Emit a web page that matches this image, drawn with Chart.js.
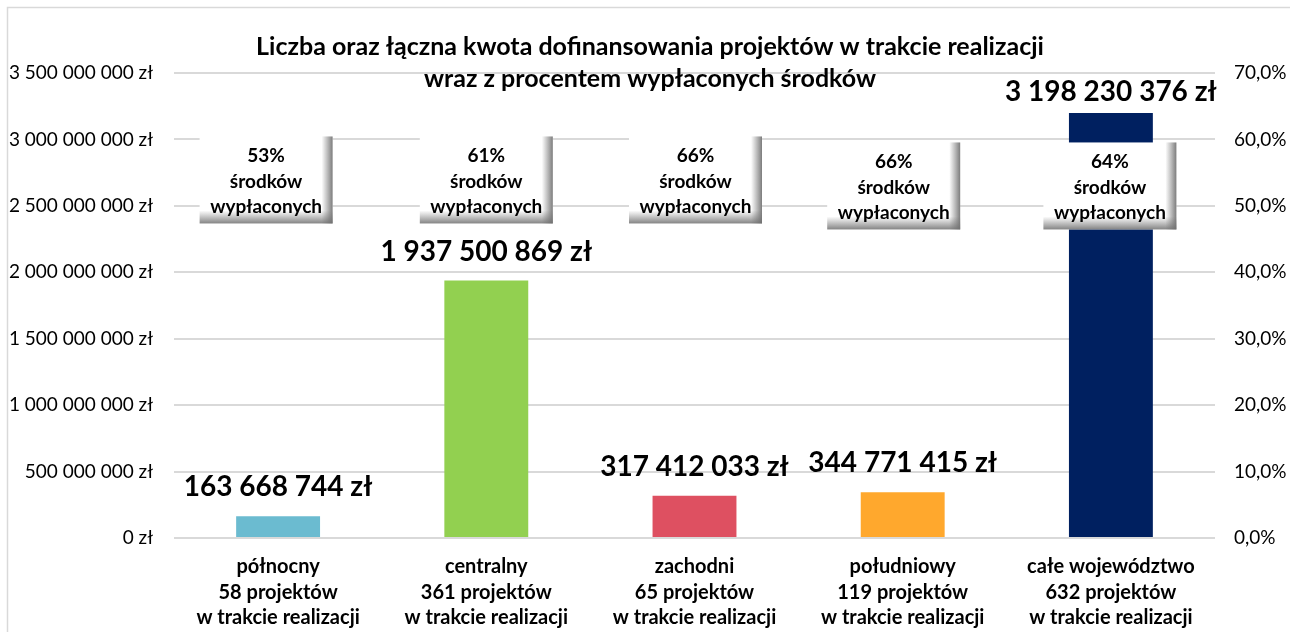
<!DOCTYPE html>
<html>
<head>
<meta charset="utf-8">
<script src="https://cdn.jsdelivr.net/npm/chart.js@4.4.0/dist/chart.umd.min.js"></script>
<style>
  html, body { margin: 0; padding: 0; background: #fff; }
  #wrap { width: 1290px; height: 632px; position: relative; }
</style>
</head>
<body>
<div id="wrap"><canvas id="wykres" width="1290" height="632"></canvas></div>
<script>
// dane z wykresu
const regiony = [
  ['północny', '58 projektów', 'w trakcie realizacji'],
  ['centralny', '361 projektów', 'w trakcie realizacji'],
  ['zachodni', '65 projektów', 'w trakcie realizacji'],
  ['południowy', '119 projektów', 'w trakcie realizacji'],
  ['całe województwo', '632 projektów', 'w trakcie realizacji']
];
const kwoty = [163668744, 1937500869, 317412033, 344771415, 3198230376];
const procentWyplat = [53, 61, 66, 66, 64];
const tytul = [
  'Liczba oraz łączna kwota dofinansowania projektów w trakcie realizacji',
  'wraz z procentem wypłaconych środków'
];
const kolory = ['#6BBBD0', '#92D050', '#DE5061', '#FFA82D', '#002060'];

const FONT = 'Lato, "Open Sans", sans-serif';

function formatZl(v) {
  return String(Math.round(v)).replace(/\B(?=(\d{3})+(?!\d))/g, ' ') + ' zł';
}

// tytul + ramka
const tloITytul = {
  id: 'tloITytul',
  beforeDraw(chart) {
    const ctx = chart.ctx;
    ctx.save();
    ctx.strokeStyle = '#D9D9D9';
    ctx.lineWidth = 1.5;
    ctx.strokeRect(7.5, 7.5, 1300, 700);
    ctx.restore();
  },
  afterDraw(chart) {
    const ctx = chart.ctx;
    ctx.save();
    ctx.fillStyle = '#000';
    ctx.font = 'bold 25px ' + FONT;
    ctx.textAlign = 'center';
    ctx.textBaseline = 'middle';
    ctx.fillText(tytul[0], 650, 47);
    ctx.fillText(tytul[1], 650, 79);
    ctx.restore();
  }
};

// etykiety kwot nad slupkami
const etykietyKwot = {
  id: 'etykietyKwot',
  afterDatasetsDraw(chart) {
    const ctx = chart.ctx;
    const meta = chart.getDatasetMeta(0);
    ctx.save();
    ctx.fillStyle = '#000';
    ctx.font = 'bold 28px ' + FONT;
    ctx.textAlign = 'center';
    ctx.textBaseline = 'middle';
    meta.data.forEach((bar, i) => {
      const y = Math.max(bar.y - 29, chart.chartArea.top + 19);
      ctx.fillText(formatZl(kwoty[i]), bar.x, y);
    });
    ctx.restore();
  }
};

// ramki z procentem wyplaconych srodkow
const ramkiProcent = {
  id: 'ramkiProcent',
  afterDatasetsDraw(chart) {
    const ctx = chart.ctx;
    const meta = chart.getDatasetMeta(1);
    const przesun = [[-12, 0], [0, 0], [1, 0], [-9, 6], [-1, 6]];
    const yBase = chart.scales.y1.getPixelForValue(53.9);
    const w = 133, h = 87;
    ctx.save();
    meta.data.forEach((pt, i) => {
      const cx = pt.x + przesun[i][0];
      const cy = yBase + przesun[i][1];
      const x0 = cx - w / 2, y0 = cy - h / 2;
      ctx.fillStyle = '#fff';
      ctx.fillRect(x0, y0, w, h);
      let g = ctx.createLinearGradient(x0 + w - 11, 0, x0 + w, 0);
      g.addColorStop(0, 'rgba(120,120,120,0)');
      g.addColorStop(1, 'rgba(110,110,110,0.9)');
      ctx.fillStyle = g;
      ctx.fillRect(x0 + w - 11, y0, 11, h);
      g = ctx.createLinearGradient(0, y0 + h - 13, 0, y0 + h);
      g.addColorStop(0, 'rgba(120,120,120,0)');
      g.addColorStop(1, 'rgba(110,110,110,0.85)');
      ctx.fillStyle = g;
      ctx.fillRect(x0, y0 + h - 13, w, 13);
      ctx.fillStyle = '#000';
      ctx.font = 'bold 19px ' + FONT;
      ctx.textAlign = 'center';
      ctx.textBaseline = 'middle';
      ctx.fillText(procentWyplat[i] + '%', cx, cy - 24);
      ctx.fillText('środków', cx, cy + 2);
      ctx.fillText('wypłaconych', cx, cy + 27);
    });
    ctx.restore();
  }
};

const ctx = document.getElementById('wykres').getContext('2d');
new Chart(ctx, {
  type: 'bar',
  data: {
    labels: regiony,
    datasets: [
      {
        label: 'Kwota dofinansowania',
        data: kwoty,
        backgroundColor: kolory,
        yAxisID: 'y',
        categoryPercentage: 1,
        barPercentage: 0.403,
        order: 2
      },
      {
        type: 'line',
        label: 'Procent wypłaconych środków',
        data: procentWyplat,
        yAxisID: 'y1',
        showLine: false,
        pointRadius: 0,
        order: 1
      }
    ]
  },
  options: {
    responsive: false,
    animation: false,
    layout: { padding: { top: 73, left: 0, right: 0, bottom: 0 } },
    plugins: {
      legend: { display: false },
      tooltip: { enabled: false },
      title: { display: false }
    },
    scales: {
      x: {
        grid: { display: false, drawTicks: false },
        border: { display: false },
        ticks: {
          color: '#000',
          font: { family: FONT, size: 20, weight: 'bold', lineHeight: 1.275 },
          padding: 16,
          maxRotation: 0,
          autoSkip: false
        },
        afterFit(scale) { scale.height = 94; }
      },
      y: {
        position: 'left',
        min: 0,
        max: 3500000000,
        grid: { color: '#D9D9D9', lineWidth: 2, drawTicks: false },
        border: { display: false },
        ticks: {
          stepSize: 500000000,
          color: '#000',
          font: { family: FONT, size: 19 },
          padding: 21,
          callback: (v) => formatZl(v)
        },
        afterFit(scale) { scale.width = 174; }
      },
      y1: {
        position: 'right',
        min: 0,
        max: 70,
        grid: { drawOnChartArea: false, drawTicks: false },
        border: { display: false },
        ticks: {
          stepSize: 10,
          color: '#000',
          font: { family: FONT, size: 19 },
          padding: 19,
          callback: (v) => v.toFixed(1).replace('.', ',') + '%'
        },
        afterFit(scale) { scale.width = 75; }
      }
    }
  },
  plugins: [tloITytul, etykietyKwot, ramkiProcent]
});
</script>
</body>
</html>
